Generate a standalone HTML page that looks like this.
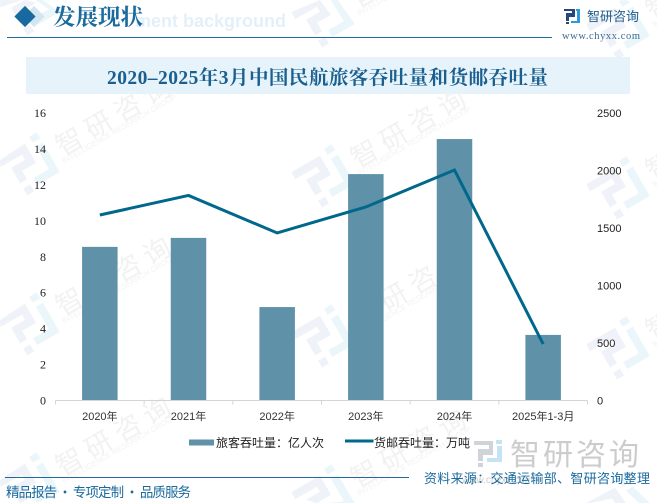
<!DOCTYPE html>
<html lang="zh">
<head>
<meta charset="utf-8">
<title>2020-2025年3月中国民航旅客吞吐量和货邮吞吐量</title>
<style>
html,body{margin:0;padding:0;background:#fff;overflow:hidden;}
#page{position:relative;width:657px;height:503px;overflow:hidden;background:#fff;}
svg{position:absolute;left:0;top:0;display:block;}
</style>
</head>
<body>
<div id="page">
<svg id="chart" width="657" height="503" viewBox="0 0 657 503" xmlns="http://www.w3.org/2000/svg">
  <g id="watermarks"></g>

  <text x="135" y="27" font-family="'Liberation Sans',sans-serif" font-weight="bold" font-size="18" fill="#e4f0f9" textLength="151" lengthAdjust="spacingAndGlyphs">ment background</text>
  <rect x="26.5" y="9" width="15" height="15" transform="rotate(45 34 16.5)" fill="#d3e5f1"/>
  <rect x="17.5" y="9" width="15" height="15" transform="rotate(45 25 16.5)" fill="#17699f"/>
  <text x="53" y="25" font-family="'Noto Serif CJK SC','Liberation Serif',serif" font-weight="bold" font-size="22.5" fill="#1a6a9e">发展现状</text>
  <line x1="7" y1="37.5" x2="552" y2="37.5" stroke="#1f6a9a" stroke-width="1"/>

  <g id="brand">
    <path d="M564 9H575V17H569V21H566V13H572V11H564Z" fill="#27457f"/>
    <rect x="566" y="22" width="3" height="2" fill="#27457f"/>
    <path d="M577 11h3v12h-9v-2h6z" fill="#2d9bd8"/>
    <rect x="576" y="9" width="4" height="2" fill="#2d9bd8"/>
    <text x="587" y="21" font-family="'Noto Sans CJK SC',sans-serif" font-size="13" fill="#1e5c8c">智研咨询</text>
    <text x="562" y="39" font-family="'Liberation Serif',serif" font-size="10.5" fill="#3a6c93" textLength="78">www.chyxx.com</text>
  </g>

  <rect x="26" y="57" width="604" height="37" fill="#e6f3fb"/>
  <text x="327.5" y="84" text-anchor="middle" font-family="'Liberation Serif','Noto Serif CJK SC',serif" font-weight="bold" font-size="19.5" fill="#1a5f8e" textLength="441">2020–2025年3月中国民航旅客吞吐量和货邮吞吐量</text>

  <g id="bars"></g>
  <g id="axis"></g>
  <polyline id="cargo-line" fill="none" stroke="#00688b" stroke-width="3" stroke-linejoin="miter"/>

  <rect x="189" y="439.5" width="25" height="6" fill="#5f91a9"/>
  <text x="216" y="447" font-family="'Noto Sans CJK SC',sans-serif" font-size="12" fill="#222">旅客吞吐量：亿人次</text>
  <line x1="345" y1="441" x2="373.5" y2="441" stroke="#00688b" stroke-width="3"/>
  <text x="374" y="447" font-family="'Noto Sans CJK SC',sans-serif" font-size="12" fill="#222">货邮吞吐量：万吨</text>

  <g>
    <path d="M474 441H493V455H483V461H478V449H489V445H474Z" fill="#cfd3da"/>
    <rect x="478" y="463" width="5" height="4" fill="#cfd3da"/>
    <path d="M497 446h5v16h-15v-4h10z" fill="#c5e3f3"/>
    <rect x="496" y="440" width="6" height="4" fill="#c5e3f3"/>
    <text x="510" y="465" font-family="'Noto Sans CJK SC',sans-serif" font-size="30" fill="#cccccc" textLength="129">智研咨询</text>
    <text x="462" y="483" font-family="'Liberation Sans',sans-serif" font-size="10" fill="#cccccc">www.chyxx.com</text>
  </g>

  <line x1="5" y1="477.5" x2="409" y2="477.5" stroke="#1f6a9a" stroke-width="1"/>
  <text x="6" y="497" font-family="'Noto Sans CJK SC',sans-serif" font-size="13.5" fill="#1a6a9e" textLength="185">精品报告 · 专项定制 · 品质服务</text>
  <text x="424" y="483" font-family="'Noto Sans CJK SC',sans-serif" font-size="13" fill="#1a6a9e" textLength="226">资料来源：交通运输部、智研咨询整理</text>
</svg>
</div>

<script>
var categories = ['2020年','2021年','2022年','2023年','2024年','2025年1-3月'];
var passengerValues = [8.55, 9.05, 5.2, 12.6, 14.55, 3.65];
var cargoValues = [1613, 1783, 1457, 1683, 2004, 491];
var leftTicks = [0,2,4,6,8,10,12,14,16];
var rightTicks = [0,500,1000,1500,2000,2500];
var leftMax = 16;
var rightMax = 2500;

var NS = 'http://www.w3.org/2000/svg';
var plot = {left:55.5, right:587.5, top:113, bottom:400.5};

function xBand(i){ return plot.left + (plot.right-plot.left)*i/categories.length; }
function xCenter(i){ return plot.left + (plot.right-plot.left)*(i+0.5)/categories.length; }
function yLeft(v){ return plot.bottom - (plot.bottom-plot.top)*v/leftMax; }
function yRight(v){ return plot.bottom - (plot.bottom-plot.top)*v/rightMax; }
function make(tag, attrs, parent, txt){
  var el = document.createElementNS(NS, tag);
  for (var k in attrs) el.setAttribute(k, attrs[k]);
  if (txt !== undefined) el.textContent = txt;
  parent.appendChild(el);
  return el;
}

var barsG = document.getElementById('bars');
var axisG = document.getElementById('axis');
var barW = 35.5;
passengerValues.forEach(function(v,i){
  var y = yLeft(v);
  var b = make('rect',{x:xCenter(i)-barW/2,y:y,width:barW,height:plot.bottom-y,fill:'#5f91a9'},barsG);
  
  
});

var baseLine = make('line',{x1:plot.left,y1:plot.bottom,x2:plot.right,y2:plot.bottom,stroke:'#d4d4d4','stroke-width':1},axisG);


for (var t = 0; t <= categories.length; t++){
  var tk = make('line',{x1:xBand(t),y1:plot.bottom,x2:xBand(t),y2:plot.bottom+4,stroke:'#d4d4d4','stroke-width':1},axisG);
  
  
}
categories.forEach(function(c,i){
  var l = make('text',{x:xCenter(i),y:420,'text-anchor':'middle','font-family':"'Liberation Sans','Noto Sans CJK SC',sans-serif",'font-size':'11',fill:'#333'},axisG,c);
  
  
});
leftTicks.forEach(function(v){
  var l = make('text',{x:46,y:yLeft(v)+4,'text-anchor':'end','font-family':"'Liberation Serif',serif",'font-size':'12',fill:'#222'},axisG,String(v));
  
  
});
rightTicks.forEach(function(v){
  var l = make('text',{x:597,y:yRight(v)+4,'font-family':"'Liberation Sans',sans-serif",'font-size':'11',fill:'#222'},axisG,String(v));
  
  
});

document.getElementById('cargo-line').setAttribute('points', cargoValues.map(function(v,i){
  return xCenter(i)+','+yRight(v);
}).join(' '));

/* Decorative repeating watermark (not chart data). */
var logoGray = [[-25,-20],[8,-20],[8,2],[-8,2],[-8,12],[-16,12],[-16,-6],[0,-6],[0,-12],[-25,-12]];
var logoGraySquare = [[-16,18],[-8,18],[-8,26],[-16,26]];
var logoBlue = [[16,-12],[24,-12],[24,22],[-2,22],[-2,14],[16,14]];
var logoBlueSquare = [[15,-24],[24,-24],[24,-17],[15,-17]];
function logoPoly(pts, cx, cy, fill, parent){
  var c = Math.cos(Math.PI/6), s = Math.sin(Math.PI/6);
  var out = pts.map(function(p){
    var x = cx + p[0]*c + p[1]*s;
    var y = cy - p[0]*s + p[1]*c;
    return Math.max(0, Math.min(657, x)) + ',' + Math.max(0, Math.min(503, y));
  }).join(' ');
  make('polygon',{points:out,fill:fill},parent);
}
var wm = document.getElementById('watermarks');
for (var row = 0; row < 4; row++){
  for (var col = 0; col < 3; col++){
    var cx = 28 + col*295;
    var cy = 5 + row*160 + col*12;
    var g = make('g',{},wm);
    
    
    logoPoly(logoGray, cx, cy, '#eff2f8', g);
    logoPoly(logoGraySquare, cx, cy, '#eff2f8', g);
    logoPoly(logoBlue, cx, cy, '#ebf6fb', g);
    logoPoly(logoBlueSquare, cx, cy, '#ebf6fb', g);
    if (row === 3 && col === 2) continue;
    var tg = make('g',{transform:'translate('+cx+' '+cy+') rotate(-30)'},g);
    make('text',{x:34,y:10,'font-family':"'Noto Sans CJK SC',sans-serif",'font-size':'27',fill:'#f2f2f2',textLength:'128'},tg,'智研咨询');
    make('text',{x:32,y:17,'font-family':"'Liberation Sans',sans-serif",'font-size':'8',fill:'#f3f3f3',textLength:'130'},tg,'INTELLIGENCE RESEARCH GROUP');
  }
}
</script>
</body>
</html>
